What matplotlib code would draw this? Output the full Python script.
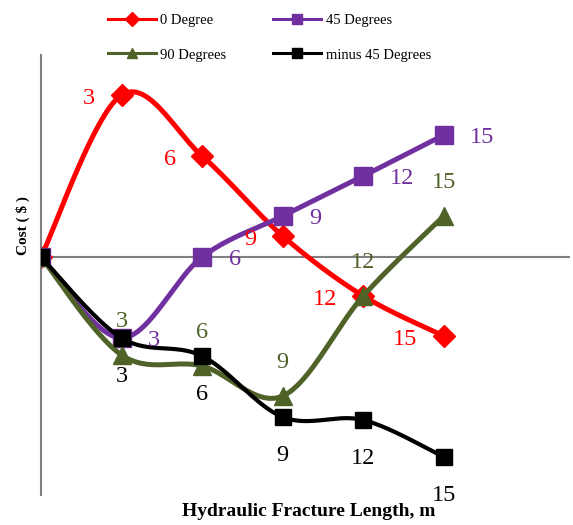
import numpy as np
import matplotlib
matplotlib.use('Agg')
import matplotlib.pyplot as plt
from matplotlib.lines import Line2D

plt.rcParams['font.family'] = ['Liberation Serif', 'DejaVu Serif']

# fracture lengths (m) and relative cost of each orientation
length = [0, 3, 6, 9, 12, 15]
cost_0 = [0, 8.1, 5.05, 1.05, -1.95, -3.95]
cost_45 = [0, -4.05, 0, 2.05, 4.05, 6.1]
cost_90 = [0, -4.9, -5.45, -6.95, -1.95, 2.05]
cost_m45 = [0, -4.05, -4.95, -8.0, -8.15, -10.0]

series_names = ['0 Degree', '45 Degrees', '90 Degrees', 'minus 45 Degrees']
series_colors = ['#FF0000', '#7030A0', '#4F6228', '#000000']
series_markers = ['D', 's', '^', 's']


def smooth(x, y, n=40):
    # Excel-style smoothed line: cubic Bezier through each point
    pts = np.column_stack([x, y]).astype(float)
    out = []
    for i in range(len(pts) - 1):
        p0 = pts[max(i - 1, 0)]
        p1 = pts[i]
        p2 = pts[i + 1]
        p3 = pts[min(i + 2, len(pts) - 1)]
        c1 = p1 + (p2 - p0) / 6
        c2 = p2 - (p3 - p1) / 6
        t = np.linspace(0, 1, n)[:, None]
        seg = (1 - t) ** 3 * p1 + 3 * (1 - t) ** 2 * t * c1 + 3 * (1 - t) * t ** 2 * c2 + t ** 3 * p2
        out.append(seg if i == 0 else seg[1:])
    return np.vstack(out)


W, H = 573, 525
fig = plt.figure(figsize=(W / 100, H / 100), dpi=100)
ax = fig.add_axes([41 / W, 1 - 495 / H, (570 - 41) / W, (495 - 55) / H])
ax.set_xlim(0, 19.7)
ax.set_ylim(-11.9, 10.1)
for s in ['top', 'right', 'bottom']:
    ax.spines[s].set_visible(False)
ax.spines['left'].set_color('#808080')
ax.spines['left'].set_linewidth(1.5)
ax.set_xticks([])
ax.set_yticks([])
ax.axhline(0, color='#808080', lw=1.5, zorder=1)

all_costs = [cost_0, cost_45, cost_90, cost_m45]
lws = [3.6, 3.6, 3.6, 3.0]
msizes = [11.5, 12.5, 12.5, 12]
# label placement: (dx, dy) in points, ha
placement = [
    ((-19, -1), 'right'),
    ((19, 0), 'left'),
    ((0, 26), 'center'),
    ((0, -26), 'center'),
]

for k, (vals, c, m) in enumerate(zip(all_costs, series_colors, series_markers)):
    curve = smooth(length, vals)
    ax.plot(curve[:, 0], curve[:, 1], color=c, lw=lws[k], solid_capstyle='round', zorder=2 + k)
    ax.plot(length, vals, ls='none', marker=m, ms=msizes[k], color=c, zorder=2 + k)
    (dx, dy), ha = placement[k]
    for xv, yv in zip(length[1:], vals[1:]):
        ax.annotate(str(xv), (xv, yv), xytext=(dx, dy), textcoords='offset points',
                    ha=ha, va='center_baseline', color=c, fontsize=17.5, zorder=10)

# legend fills column by column, so order the entries for two rows
order = [0, 2, 1, 3]
handles = [Line2D([], [], color=series_colors[i], marker=series_markers[i], lw=2.2, ms=7)
           for i in order]
labels = [series_names[i] for i in order]
fig.legend(handles, labels, loc='upper left', bbox_to_anchor=(108 / W, 1 - 14 / H),
           ncol=2, frameon=False, fontsize=10.5, borderpad=0, borderaxespad=0,
           handlelength=3.3, handletextpad=0.3, columnspacing=3.2, labelspacing=1.45)

fig.text(23 / W, 1 - 226 / H, 'Cost ( $ )', rotation=90, ha='center', va='center',
         fontsize=11, fontweight='bold')
fig.text(309 / W, 1 - 511 / H, 'Hydraulic Fracture Length, m', ha='center', va='center',
         fontsize=14, fontweight='bold')

fig.savefig('out.png', dpi=100)
